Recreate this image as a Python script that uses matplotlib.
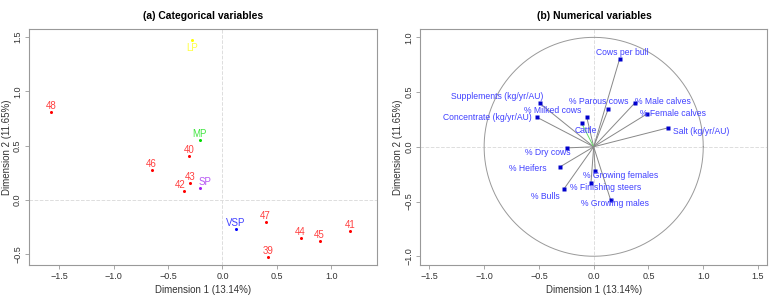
import numpy as np
import matplotlib.pyplot as plt

plt.rcParams['font.family'] = ['Liberation Sans', 'DejaVu Sans']

# (a) categorical variables
cat_names = ['LP', '48', 'MP', '40', '46', '43', '42', 'SP', 'VSP', '47', '44', '45', '41', '39']
cat_x = [-0.279, -1.575, -0.208, -0.309, -0.651, -0.300, -0.352, -0.208, 0.125, 0.397, 0.718, 0.893, 1.174, 0.422]
cat_y = [1.472, 0.807, 0.552, 0.402, 0.276, 0.153, 0.086, 0.113, -0.264, -0.200, -0.353, -0.374, -0.285, -0.521]
cat_col = ['#FFFF00', '#FF0000', '#00DD00', '#FF0000', '#FF0000', '#FF0000', '#FF0000',
           '#A020F0', '#0000FF', '#FF0000', '#FF0000', '#FF0000', '#FF0000', '#FF0000']
# label nudges (points) where the labels were moved apart
cat_dx = [0, 0, 0, 0, 0, 0, -3, 4, 0, 0, 0, 0, 0, 0]

# (b) numerical variables
num_names = ['Cows per bull', 'Supplements (kg/yr/AU)', 'Concentrate (kg/yr/AU)', '% Parous cows',
             '% Male calves', '% Female calves', '% Milked cows', 'Cattle', 'Salt (kg/yr/AU)',
             '% Dry cows', '% Heifers', '% Growing females', '% Finishing steers', '% Bulls',
             '% Growing males']
num_x = [0.237, -0.490, -0.520, 0.134, 0.377, 0.484, -0.064, -0.109, 0.681,
         -0.246, -0.310, 0.015, -0.025, -0.274, 0.155]
num_y = [0.804, 0.396, 0.271, 0.347, 0.402, 0.299, 0.274, 0.214, 0.174,
         -0.010, -0.185, -0.222, -0.334, -0.389, -0.487]
lab_x = [0.265, -0.885, -0.972, 0.046, 0.628, 0.721, -0.376, -0.075, 0.985,
         -0.420, -0.602, 0.245, 0.110, -0.443, 0.190]
lab_y = [0.865, 0.457, 0.265, 0.411, 0.411, 0.305, 0.335, 0.153, 0.137,
         -0.048, -0.197, -0.258, -0.368, -0.450, -0.520]

fig = plt.figure(figsize=(7.83, 3.02), dpi=100)
ax1 = fig.add_axes([0.037, 0.1225, 0.444, 0.781])
ax2 = fig.add_axes([0.537, 0.1225, 0.443, 0.781])

def style(ax):
    for s in ax.spines.values():
        s.set_color('#999999')
        s.set_linewidth(0.8)
    ax.tick_params(colors='#999999', labelcolor='#333333', labelsize=6.5, length=3, width=0.6, pad=2)
    for lab in ax.get_yticklabels():
        lab.set_rotation(90)
        lab.set_va('center')
    ax.axhline(0, color='#DDDDDD', ls='--', lw=0.7, zorder=0)
    ax.axvline(0, color='#DDDDDD', ls='--', lw=0.7, zorder=0)
    ax.set_xlabel('Dimension 1 (13.14%)', fontsize=7, color='#333333', labelpad=3)
    ax.set_ylabel('Dimension 2 (11.65%)', fontsize=7, color='#333333', labelpad=1)

# left panel
ax1.set_xlim(-1.777, 1.416)
ax1.set_ylim(-0.598, 1.573)
ax1.set_xticks([-1.5, -1.0, -0.5, 0.0, 0.5, 1.0])
ax1.set_yticks([-0.5, 0.0, 0.5, 1.0, 1.5])
style(ax1)
for name, x, y, c, dx in zip(cat_names, cat_x, cat_y, cat_col, cat_dx):
    ax1.plot(x, y, 'o', color=c, ms=2.2, mec='none')
    if name == 'LP':
        ax1.annotate(name, (x, y), xytext=(dx, -2), textcoords='offset points',
                     ha='center', va='top', color=c, fontsize=7, alpha=0.75)
    else:
        ax1.annotate(name, (x, y), xytext=(dx, 0.8), textcoords='offset points',
                     ha='center', va='bottom', color=c, fontsize=7, alpha=0.75)
ax1.set_title('(a) Categorical variables', fontsize=7.5, fontweight='bold', pad=7)

# right panel
ax2.set_xlim(-1.581, 1.585)
ax2.set_ylim(-1.080, 1.075)
ax2.set_xticks([-1.5, -1.0, -0.5, 0.0, 0.5, 1.0, 1.5])
ax2.set_yticks([-1.0, -0.5, 0.0, 0.5, 1.0])
style(ax2)
t = np.linspace(0, 2 * np.pi, 400)
ax2.plot(np.cos(t), np.sin(t), color='#999999', lw=0.7)
for name, x, y, lx, ly in zip(num_names, num_x, num_y, lab_x, lab_y):
    lc = '#66DD66' if name == 'Cattle' else '#888888'
    ax2.plot([0, x], [0, y], color=lc, lw=0.7)
    ax2.plot(x, y, 's', color='#0000CC', ms=2.2, mec='none')
    ax2.text(lx, ly, name, ha='center', va='center', color='#4040FF', fontsize=6.2)
ax2.set_title('(b) Numerical variables', fontsize=7.5, fontweight='bold', pad=7)

fig.savefig('out.png', dpi=100)
